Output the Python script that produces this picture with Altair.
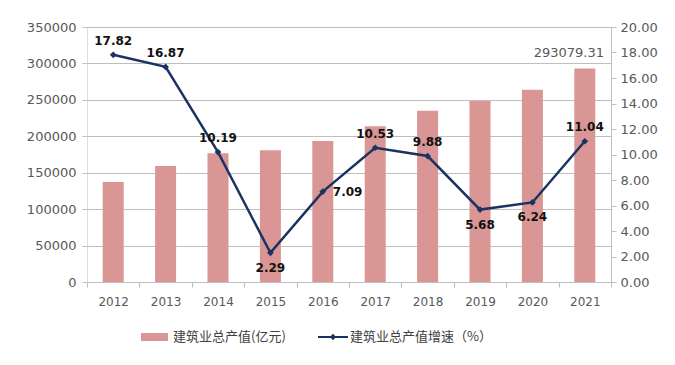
import altair as alt
import pandas as pd

years = ["2012", "2013", "2014", "2015", "2016", "2017", "2018", "2019", "2020", "2021"]
output = [137217.86, 159312.95, 176713.42, 180757.47, 193566.78,
          213943.56, 235085.53, 248445.77, 263947.04, 293079.31]
growth = [17.82, 16.87, 10.19, 2.29, 7.09, 10.53, 9.88, 5.68, 6.24, 11.04]
bar_name = "建筑业总产值(亿元)"
line_name = "建筑业总产值增速（%）"
labels_above = ["2012", "2013", "2014", "2017", "2018", "2021"]
labels_below = ["2015", "2019", "2020"]
labels_right = ["2016"]
labelled_bar = ["2021"]
left_ticks = [0, 50000, 100000, 150000, 200000, 250000, 300000, 350000]
right_ticks = [0, 2, 4, 6, 8, 10, 12, 14, 16, 18, 20]

df = pd.DataFrame({"year": years, "output": output, "growth": growth})

W, H = 524, 255
BAR = "#D99694"
LINE = "#1B3363"
GRID = "#BFBFBF"
TXT = "#595959"
FONT = "DejaVu Sans"

x_enc = alt.X("year:N", title=None, sort=years,
              scale=alt.Scale(paddingInner=0, paddingOuter=0),
              axis=alt.Axis(labelAngle=0, tickBand="extent", domain=True,
                            domainColor=GRID, tickColor=GRID, tickSize=5,
                            labelColor=TXT, labelFontSize=12, labelFont=FONT,
                            labelPadding=9, grid=False))

y_left = alt.Y("output:Q", title=None,
               scale=alt.Scale(domain=[0, 350000], nice=False, zero=True),
               axis=alt.Axis(orient="left", values=left_ticks, format="d",
                             domain=False, ticks=True, tickSize=5, tickColor=GRID,
                             grid=True, gridColor=GRID, gridWidth=1,
                             labelColor=TXT, labelFontSize=13, labelFont=FONT,
                             labelPadding=6))

y_right = alt.Y("growth:Q", title=None,
                scale=alt.Scale(domain=[0, 20], nice=False, zero=True),
                axis=alt.Axis(orient="right", values=right_ticks, format=".2f",
                              domain=True, domainColor=GRID, ticks=True,
                              tickSize=5, tickColor=GRID, grid=False,
                              labelColor=TXT, labelFontSize=13, labelFont=FONT,
                              labelPadding=4))

base = alt.Chart(df)

bars = base.mark_bar(size=21, color=BAR).encode(x=x_enc, y=y_left)
bar_label = base.transform_filter(
    alt.FieldOneOfPredicate(field="year", oneOf=labelled_bar)
).mark_text(dy=-15, dx=-16, color=TXT, fontSize=13, font=FONT).encode(
    x=x_enc, y=y_left, text=alt.Text("output:Q", format=".2f"))
bar_layer = alt.layer(bars, bar_label)

line = base.mark_line(color=LINE, strokeWidth=2.5).encode(x=x_enc, y=y_right)
pts = base.mark_point(shape="diamond", filled=True, size=45, color=LINE, opacity=1).encode(
    x=x_enc, y=y_right)


def lab(years_sel, **kw):
    return base.transform_filter(
        alt.FieldOneOfPredicate(field="year", oneOf=years_sel)
    ).mark_text(color="#111111", fontSize=12, fontWeight="bold", font=FONT, **kw).encode(
        x=x_enc, y=y_right, text=alt.Text("growth:Q", format=".2f"))


lab_above = lab(labels_above, dy=-14)
lab_below = lab(labels_below, dy=15)
lab_right = lab(labels_right, align="left", dx=10)
line_layer = alt.layer(line, pts, lab_above, lab_below, lab_right)

# manual legend below the chart (positions relative to the plot area)
leg_df1 = pd.DataFrame({"name": [bar_name]})
leg_df2 = pd.DataFrame({"name": [line_name]})
LY = 310
leg_rect = alt.Chart(leg_df1).mark_rect(color=BAR).encode(
    x=alt.value(54), x2=alt.value(81), y=alt.value(LY - 4), y2=alt.value(LY + 4))
leg_txt1 = alt.Chart(leg_df1).mark_text(
    align="left", baseline="middle", font="Noto Sans CJK SC", fontSize=13, color="#404040"
).encode(x=alt.value(86), y=alt.value(LY), text="name:N")
leg_rule = alt.Chart(leg_df2).mark_rule(color=LINE, strokeWidth=2).encode(
    x=alt.value(231), x2=alt.value(261), y=alt.value(LY))
leg_pt = alt.Chart(leg_df2).mark_point(shape="diamond", filled=True, size=40,
                                       color=LINE, opacity=1).encode(
    x=alt.value(246), y=alt.value(LY))
leg_txt2 = alt.Chart(leg_df2).mark_text(
    align="left", baseline="middle", font="Noto Sans CJK SC", fontSize=13, color="#404040"
).encode(x=alt.value(263), y=alt.value(LY), text="name:N")

chart = alt.layer(
    bar_layer, line_layer, leg_rect, leg_txt1, leg_rule, leg_pt, leg_txt2
).resolve_scale(y="independent").properties(
    width=W, height=H, autosize="none",
    padding={"left": 79, "top": 19, "right": 56, "bottom": 75}
).configure_view(stroke=None).configure(background="white")

chart.save("out.html", embed_options={"renderer": "svg", "actions": False})
